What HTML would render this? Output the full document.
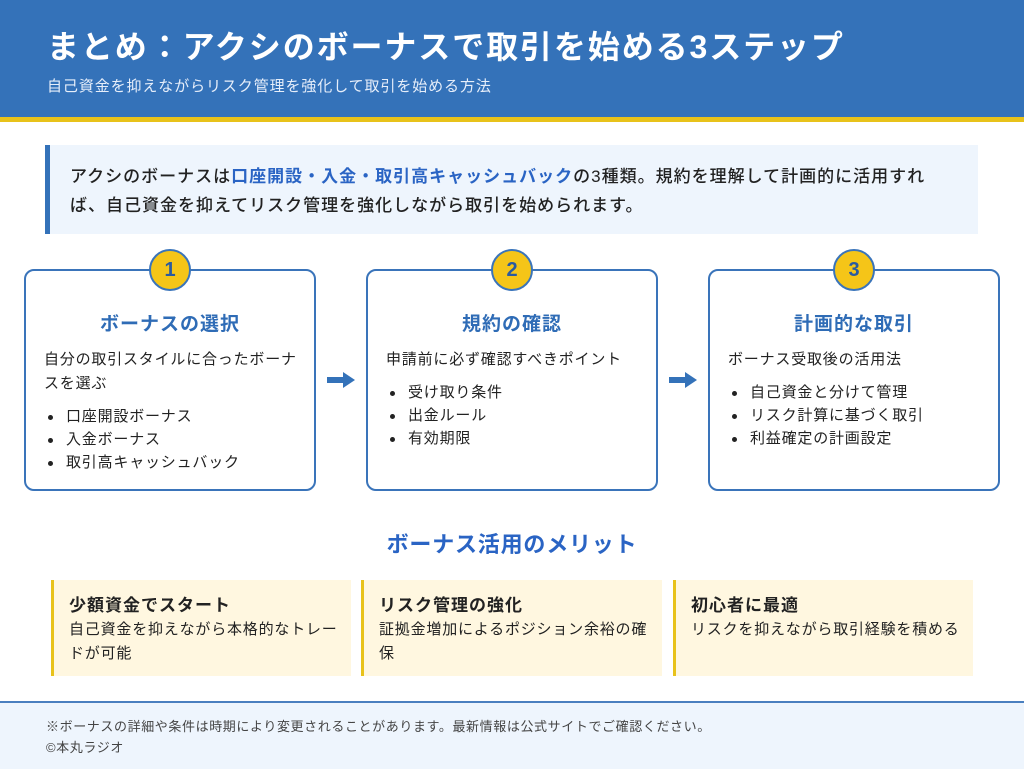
<!DOCTYPE html>
<html><head><meta charset="utf-8"><style>
*{margin:0;padding:0;box-sizing:border-box}
body{width:1024px;height:769px;overflow:hidden;background:#fff;font-family:"Liberation Sans","Noto Sans CJK JP",sans-serif;color:#222;position:relative}
.hd{position:absolute;left:0;top:0;width:1024px;height:122px;background:#3472b9;border-bottom:5px solid #e8c21a}
.hd h1{position:absolute;left:47px;top:22px;font-size:32px;color:#fff;font-weight:700;letter-spacing:1.9px;white-space:nowrap}
.hd p{position:absolute;left:47px;top:75px;font-size:15px;letter-spacing:0.9px;color:#e6eefa;white-space:nowrap}
.intro{position:absolute;left:45px;top:145px;width:933px;height:89px;background:#eef5fd;border-left:5px solid #3472b9;padding:17px 0 0 20px;font-size:17px;letter-spacing:1px;line-height:29px;font-weight:500}
.intro b{color:#2a64c4}
.card{position:absolute;top:269px;width:292px;height:222px;border:2px solid #3a74ba;border-radius:10px;background:#fff}
.num{position:absolute;left:50%;top:-22px;margin-left:-21px;width:42px;height:42px;border-radius:50%;background:#f5c518;border:2px solid #3a74ba;text-align:center;line-height:38px;font-weight:700;font-size:20px;color:#2a5aa0}
.card h3{position:absolute;top:38px;width:100%;text-align:center;font-size:19px;letter-spacing:1px;color:#2f6cb6;font-weight:700}
.card .d{position:absolute;left:18px;right:10px;top:77px;font-size:15px;letter-spacing:0.8px;line-height:24px}
.card ul{list-style:none;margin-top:9px}
.card li{line-height:23px;padding-left:22px;position:relative}
.card li:before{content:"";position:absolute;left:4px;top:10px;width:5px;height:5px;border-radius:50%;background:#222}
.arr{position:absolute;top:372px;width:28px;height:16px}
.sec{position:absolute;top:527px;width:1024px;text-align:center;font-size:22px;letter-spacing:0.8px;font-weight:700;color:#2a64c4}
.m{position:absolute;top:580px;height:96px;background:#fff7e0;border-left:3px solid #e8c21a;padding:13px 6px 0 15px}
.m h4{font-size:17px;letter-spacing:1px;font-weight:700;line-height:25px}
.m p{font-size:15px;letter-spacing:0.8px;line-height:24px}
.ft{position:absolute;left:0;top:701px;width:1024px;height:68px;background:#eef5fd;border-top:2px solid #4a7fbf;padding:13px 0 0 46px;font-size:13px;letter-spacing:0.6px;color:#444;line-height:21px}
</style></head><body>
<div class="hd"><h1>まとめ：アクシのボーナスで取引を始める3ステップ</h1><p>自己資金を抑えながらリスク管理を強化して取引を始める方法</p></div>
<div class="intro">アクシのボーナスは<b>口座開設・入金・取引高キャッシュバック</b>の3種類。規約を理解して計画的に活用すれ<br>ば、自己資金を抑えてリスク管理を強化しながら取引を始められます。</div>

<div class="card" style="left:24px"><div class="num">1</div><h3>ボーナスの選択</h3><div class="d">自分の取引スタイルに合ったボーナ<br>スを選ぶ<ul><li>口座開設ボーナス</li><li>入金ボーナス</li><li>取引高キャッシュバック</li></ul></div></div>
<div class="card" style="left:366px"><div class="num">2</div><h3>規約の確認</h3><div class="d">申請前に必ず確認すべきポイント<ul><li>受け取り条件</li><li>出金ルール</li><li>有効期限</li></ul></div></div>
<div class="card" style="left:708px"><div class="num">3</div><h3>計画的な取引</h3><div class="d">ボーナス受取後の活用法<ul><li>自己資金と分けて管理</li><li>リスク計算に基づく取引</li><li>利益確定の計画設定</li></ul></div></div>

<svg class="arr" style="left:327px" viewBox="0 0 28 16"><rect x="0" y="5" width="17" height="6" fill="#3472b9"/><polygon points="16,0 28,8 16,16" fill="#3472b9"/></svg>
<svg class="arr" style="left:669px" viewBox="0 0 28 16"><rect x="0" y="5" width="17" height="6" fill="#3472b9"/><polygon points="16,0 28,8 16,16" fill="#3472b9"/></svg>

<div class="sec">ボーナス活用のメリット</div>
<div class="m" style="left:51px;width:300px"><h4>少額資金でスタート</h4><p>自己資金を抑えながら本格的なトレー<br>ドが可能</p></div>
<div class="m" style="left:361px;width:301px"><h4>リスク管理の強化</h4><p>証拠金増加によるポジション余裕の確<br>保</p></div>
<div class="m" style="left:673px;width:300px"><h4>初心者に最適</h4><p>リスクを抑えながら取引経験を積める</p></div>

<div class="ft">※ボーナスの詳細や条件は時期により変更されることがあります。最新情報は公式サイトでご確認ください。<br>©本丸ラジオ</div>
</body></html>
